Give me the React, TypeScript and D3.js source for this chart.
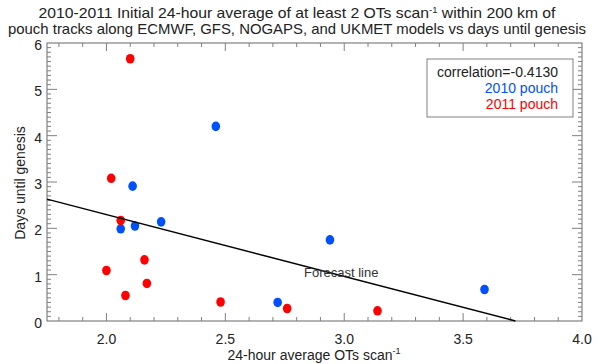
import React from 'react'
import * as d3 from 'd3'

// values
const pouch2010X = [2.46, 2.11, 2.06, 2.12, 2.23, 2.94, 2.72, 3.59]
const pouch2010Y = [4.2, 2.91, 1.99, 2.05, 2.14, 1.75, 0.4, 0.68]
const pouch2011X = [2.1, 2.02, 2.06, 2.16, 2.0, 2.17, 2.08, 2.48, 2.76, 3.14]
const pouch2011Y = [5.66, 3.08, 2.17, 1.32, 1.09, 0.81, 0.55, 0.41, 0.27, 0.22]
const forecastX = [1.75, 3.72]
const forecastY = [2.63, 0]
const xTicks = [2.0, 2.5, 3.0, 3.5, 4.0]
const yTicks = [0, 1, 2, 3, 4, 5, 6]
const correlation = '-0.4130'

const W = 601
const H = 364
const margin = { top: 43, right: 19, bottom: 43, left: 47 }

const blue = '#0050ff'
const red = '#ff0000'
const axisColor = '#808080'
const textColor = '#222'
const font = 'Liberation Sans, Arial, sans-serif'

const App = () => {
  const x = d3.scaleLinear().domain([1.75, 4.0]).range([margin.left, W - margin.right])
  const y = d3.scaleLinear().domain([0, 6]).range([H - margin.bottom, margin.top])

  const x0 = margin.left
  const x1 = W - margin.right
  const y0 = H - margin.bottom
  const y1 = margin.top

  // minor ticks every 0.1
  const xMinor = d3.range(18, 40).map((v) => v / 10)
  const yMinor = d3.range(1, 60).map((v) => v / 10)

  const line = d3
    .line<number>()
    .x((_, i) => x(forecastX[i]))
    .y((d) => y(d))

  const fmt = d3.format('.1f')

  return (
    <svg
      width={W}
      height={H}
      style={{ position: 'absolute', left: 0, top: 0, background: '#fff' }}
      fontFamily={font}
    >
      <rect width={W} height={H} fill="#fff" />

      {/* title */}
      <text
        x={297}
        y={18}
        textAnchor="middle"
        fontSize={15}
        fill={textColor}
        textLength={517}
        lengthAdjust="spacingAndGlyphs"
      >
        2010-2011 Initial 24-hour average of at least 2 OTs scan
        <tspan fontSize={9} baselineShift="60%">-1</tspan> within 200 km of
      </text>
      <text
        x={297}
        y={34}
        textAnchor="middle"
        fontSize={15}
        fill={textColor}
        textLength={578}
        lengthAdjust="spacingAndGlyphs"
      >
        pouch tracks along ECMWF, GFS, NOGAPS, and UKMET models vs days until genesis
      </text>

      {/* frame */}
      <rect x={x0} y={y1} width={x1 - x0} height={y0 - y1} fill="none" stroke={axisColor} strokeWidth={1.2} />

      {/* x ticks, bottom and top */}
      {xMinor.map((v) => {
        const major = Math.abs((v * 10) % 5) < 1e-6
        const len = major ? 8 : 4
        return (
          <g key={'xt' + v} stroke={axisColor} strokeWidth={1}>
            <line x1={x(v)} x2={x(v)} y1={y0} y2={y0 - len} />
            <line x1={x(v)} x2={x(v)} y1={y1} y2={y1 + len} />
          </g>
        )
      })}
      {yMinor.map((v) => {
        const major = Math.abs(v - Math.round(v)) < 1e-6
        const len = major ? 10 : 4
        return (
          <g key={'yt' + v} stroke={axisColor} strokeWidth={1}>
            <line x1={x0} x2={x0 + len} y1={y(v)} y2={y(v)} />
            <line x1={x1} x2={x1 - len} y1={y(v)} y2={y(v)} />
          </g>
        )
      })}

      {/* tick labels */}
      {xTicks.map((v) => (
        <text key={'xl' + v} x={x(v)} y={344} textAnchor="middle" fontSize={14} fill={textColor}>
          {fmt(v)}
        </text>
      ))}
      {yTicks.map((v) => (
        <text
          key={'yl' + v}
          x={42}
          y={y(v) + 2}
          textAnchor="end"
          dominantBaseline="central"
          fontSize={14}
          fill={textColor}
        >
          {v}
        </text>
      ))}

      {/* axis titles */}
      <text x={314} y={360} textAnchor="middle" fontSize={14} fill={textColor}>
        24-hour average OTs scan
        <tspan fontSize={9} baselineShift="70%">-1</tspan>
      </text>
      <text
        transform={`translate(20, ${183}) rotate(-90)`}
        textAnchor="middle"
        dominantBaseline="central"
        fontSize={14}
        fill={textColor}
      >
        Days until genesis
      </text>

      {/* points */}
      {pouch2010X.map((v, i) => (
        <ellipse key={'b' + i} cx={x(v)} cy={y(pouch2010Y[i])} rx={4.3} ry={4.8} fill={blue} />
      ))}
      {pouch2011X.map((v, i) => (
        <ellipse key={'r' + i} cx={x(v)} cy={y(pouch2011Y[i])} rx={4.3} ry={4.8} fill={red} />
      ))}

      {/* forecast line */}
      <path d={line(forecastY) ?? ''} fill="none" stroke="#000" strokeWidth={1.5} />
      <text x={304} y={277} fontSize={13} fill="#333">
        Forecast line
      </text>

      {/* legend */}
      <rect x={427} y={59} width={146} height={58} fill="#fff" stroke={axisColor} strokeWidth={1} />
      <text x={558} y={77} textAnchor="end" fontSize={14} fill={textColor}>
        correlation={correlation}
      </text>
      <text x={558} y={93} textAnchor="end" fontSize={14} fill={blue}>
        2010 pouch
      </text>
      <text x={558} y={109} textAnchor="end" fontSize={14} fill={red}>
        2011 pouch
      </text>
    </svg>
  )
}

export default App
